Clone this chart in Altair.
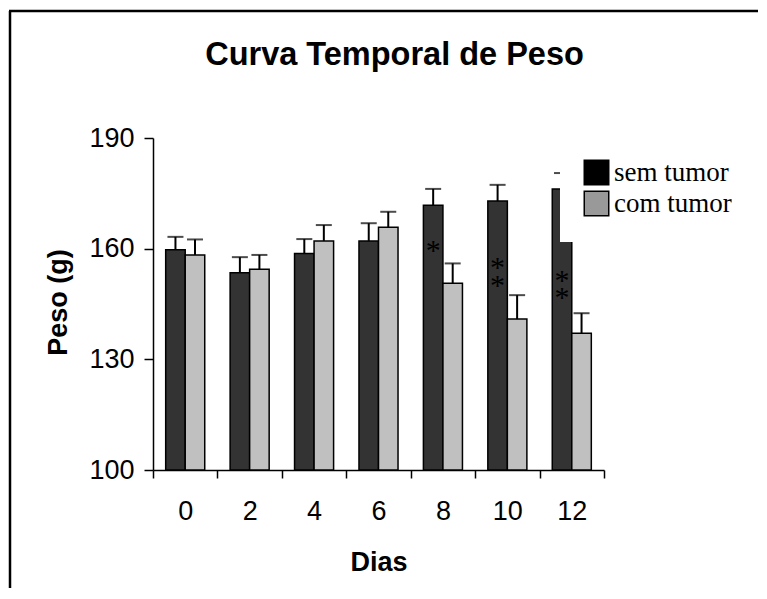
import altair as alt
import pandas as pd

# ---- data ----
days = ["0", "2", "4", "6", "8", "10", "12"]
groups = ["sem tumor", "com tumor"]
sem_tumor = [159.7, 153.5, 158.7, 162.1, 171.8, 172.9, 176.2]
sem_tumor_err = [3.5, 4.2, 3.9, 4.8, 4.4, 4.4, 4.3]
com_tumor = [158.3, 154.4, 162.1, 165.8, 150.6, 140.9, 137.1]
com_tumor_err = [4.2, 3.9, 4.3, 4.2, 5.4, 6.5, 5.4]
y_ticks = [100, 130, 160, 190]
y_base = 100

# significance markers (drawn inside the "sem tumor" bars)
star_days = ["8", "10", "10", "12", "12"]
star_y = [161.5, 156.9, 152.0, 153.4, 148.8]
star_text = ["*", "*", "*", "*", "*"]

rows = []
for i, d in enumerate(days):
    rows.append(dict(dia=d, grupo=groups[0], peso=sem_tumor[i], topo=sem_tumor[i] + sem_tumor_err[i]))
    rows.append(dict(dia=d, grupo=groups[1], peso=com_tumor[i], topo=com_tumor[i] + com_tumor_err[i]))
df = pd.DataFrame(rows)
stars = pd.DataFrame(dict(dia=star_days, grupo=groups[0], peso=star_y, t=star_text))

W, H = 451, 332
FONT = "Liberation Sans"

x = alt.X("dia:N", sort=days,
          scale=alt.Scale(paddingInner=0, paddingOuter=0),
          axis=alt.Axis(title="Dias", labelAngle=0, tickBand="extent",
                        tickSize=8, labelPadding=20, titleY=92,
                        titleBaseline="middle"))
xo = alt.XOffset("grupo:N", sort=groups,
                 scale=alt.Scale(paddingInner=0, paddingOuter=0.65))
y = alt.Y("peso:Q",
          scale=alt.Scale(domain=[100, 190], nice=False, zero=False),
          axis=alt.Axis(values=y_ticks, title="Peso (g)", tickSize=9,
                        labelPadding=10, titleX=-95, titleY=164,
                        titleBaseline="middle", titleAngle=-90))

base = alt.Chart(df)

bars = base.mark_bar(stroke="black", strokeWidth=1.5).encode(
    x=x, xOffset=xo, y=y, y2=alt.datum(y_base),
    color=alt.Color("grupo:N", sort=groups,
                    scale=alt.Scale(domain=groups, range=["#333333", "#c0c0c0"]),
                    legend=None),
)

err_rule = base.mark_rule(color="black", strokeWidth=2).encode(
    x=x, xOffset=xo, y="peso:Q", y2="topo:Q")

err_cap = base.mark_tick(color="black", thickness=2, size=16).encode(
    x=x, xOffset=xo, y="topo:Q")

star_marks = alt.Chart(stars).mark_text(
    font="Liberation Serif", fontSize=30, color="black", baseline="middle", dy=8
).encode(x=x, xOffset=xo, y="peso:Q", text="t:N")

legend_layer = base.mark_square(opacity=0).encode(
    x=x, xOffset=xo, y="peso:Q",
    color=alt.Color("grupo:N", sort=groups,
                    scale=alt.Scale(domain=groups, range=["#000000", "#999999"]),
                    legend=alt.Legend(title=None, orient="none", legendX=407, legendY=-2,
                                      fillColor="white", padding=23,
                                      symbolType="square", symbolSize=600,
                                      symbolOpacity=1, symbolStrokeColor="black",
                                      symbolStrokeWidth=1.5,
                                      labelFont="Liberation Serif", labelFontSize=27,
                                      labelColor="black", labelOffset=4,
                                      rowPadding=0, labelLimit=300)),
)

frame_src = pd.DataFrame({"k": [0]})
frame_left = alt.Chart(frame_src).mark_rule(color="black", strokeWidth=2.5).encode(
    x=alt.value(-143), y=alt.value(-127), y2=alt.value(H + 200))
frame_top = alt.Chart(frame_src).mark_rule(color="black", strokeWidth=2.5).encode(
    x=alt.value(-144), x2=alt.value(W + 200), y=alt.value(-127))

chart = alt.layer(
    frame_left, frame_top, bars, err_rule, err_cap, star_marks, legend_layer
).resolve_scale(color="independent").resolve_legend(color="independent").properties(
    width=W, height=H,
    title=alt.TitleParams("Curva Temporal de Peso", font=FONT, fontSize=32.5,
                          fontWeight="bold", color="black", anchor="middle",
                          dx=16, offset=0, dy=62),
    autosize=alt.AutoSizeParams(type="none"),
    padding={"left": 145, "top": 130, "right": 154, "bottom": 118},
).configure_view(stroke=None).configure_axis(
    grid=False, domainColor="black", domainWidth=1.5, tickColor="black",
    tickWidth=1.5, labelFont=FONT, labelFontSize=27, labelColor="black",
    titleFont=FONT, titleFontSize=27, titleFontWeight="bold", titleColor="black",
)

chart.save("out.html", embed_options={"renderer": "svg", "actions": False})
